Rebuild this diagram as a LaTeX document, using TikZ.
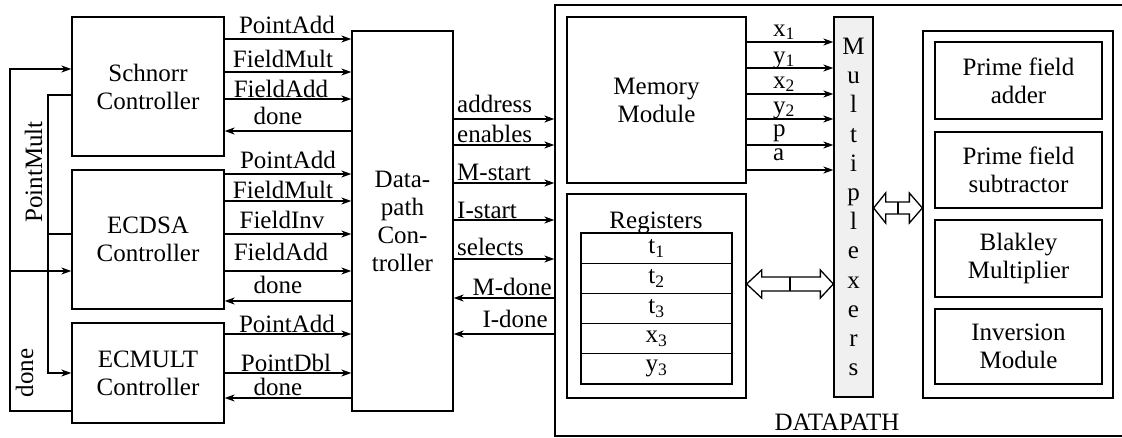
\documentclass[tikz,border=0pt]{standalone}
\usepackage{fontspec}
\setmainfont{Liberation Serif}
\usetikzlibrary{arrows.meta,calc}
\begin{document}
\begin{tikzpicture}[x=1pt,y=-1pt,
  every node/.style={font=\fontsize{25}{28}\selectfont},
  box/.style={draw, line width=1.3pt, inner sep=0pt, align=center},
  lab/.style={anchor=base, inner sep=0pt},
  labw/.style={anchor=base west, inner sep=0pt},
  labe/.style={anchor=base east, inner sep=0pt},
  sig/.style={line width=1.3pt, -{Stealth[length=10pt,width=7pt,inset=3pt]}},
  wire/.style={line width=1.3pt},
  hollow/.style={line width=1.3pt, fill=white, line join=miter}]
\useasboundingbox (0,0) rectangle (1122,437);

% controllers
\node[box, minimum width=152, minimum height=139] (sch) at (148,86.5) {Schnorr\\Controller};
\node[box, minimum width=152, minimum height=139] (ecd) at (148,239.5) {ECDSA\\Controller};
\node[box, minimum width=152, minimum height=100] (ecm) at (148,373) {ECMULT\\Controller};
\node[box, minimum width=101, minimum height=380] (dpc) at (402.5,221) {Data-\\path\\Con-\\troller};

% datapath
\node[box, minimum width=575, minimum height=431] (dp) at (842.5,220.5) {};
\node[lab] (dplab) at (837,430) {DATAPATH};
\node[box, minimum width=179, minimum height=166] (mem) at (656.5,100) {Memory\\Module};
\node[box, minimum width=179, minimum height=204] (reg) at (656.5,296) {};
\node[lab] (reglab) at (656,228) {Registers};
\node[box, minimum width=151, minimum height=30.2] (r1) at (656.5,248.1) {t\textsubscript{1}};
\node[box, minimum width=151, minimum height=30.2] (r2) at (656.5,278.3) {t\textsubscript{2}};
\node[box, minimum width=151, minimum height=30.2] (r3) at (656.5,308.5) {t\textsubscript{3}};
\node[box, minimum width=151, minimum height=30.2] (r4) at (656.5,338.7) {x\textsubscript{3}};
\node[box, minimum width=151, minimum height=30.2] (r5) at (656.5,368.9) {y\textsubscript{3}};
\node[box, fill=gray!12, minimum width=39, minimum height=380,
      font=\fontsize{25}{29.2}\selectfont] (mux) at (853.5,207) {M\\u\\l\\t\\i\\p\\l\\e\\x\\e\\r\\s};
\node[box, minimum width=190, minimum height=367] (mods) at (1018,214.5) {};
\node[box, minimum width=167, minimum height=77] (pfa) at (1018.5,80.5) {Prime field\\adder};
\node[box, minimum width=167, minimum height=76] (pfs) at (1018.5,170) {Prime field\\subtractor};
\node[box, minimum width=167, minimum height=77] (bm) at (1018.5,258.5) {Blakley\\Multiplier};
\node[box, minimum width=167, minimum height=75] (inv) at (1018.5,346.5) {Inversion\\Module};

% Schnorr signals
\draw[sig] (sch.east |- 0,39) -- (dpc.west |- 0,39);
\draw[sig] (sch.east |- 0,72) -- (dpc.west |- 0,72);
\draw[sig] (sch.east |- 0,99) -- (dpc.west |- 0,99);
\draw[sig] (dpc.west |- 0,131) -- (sch.east |- 0,131);
\node[lab] (s1) at (287,33) {PointAdd};
\node[lab] (s2) at (283,67) {FieldMult};
\node[lab] (s3) at (281,97) {FieldAdd};
\node[lab] (s4) at (278,124) {done};
% ECDSA signals
\draw[sig] (ecd.east |- 0,174) -- (dpc.west |- 0,174);
\draw[sig] (ecd.east |- 0,201) -- (dpc.west |- 0,201);
\draw[sig] (ecd.east |- 0,234) -- (dpc.west |- 0,234);
\draw[sig] (ecd.east |- 0,271) -- (dpc.west |- 0,271);
\draw[sig] (dpc.west |- 0,301) -- (ecd.east |- 0,301);
\node[lab] (e1) at (288,168) {PointAdd};
\node[lab] (e2) at (283,198) {FieldMult};
\node[lab] (e3) at (282,228) {FieldInv};
\node[lab] (e4) at (281,260) {FieldAdd};
\node[lab] (e5) at (278,293) {done};
% ECMULT signals
\draw[sig] (ecm.east |- 0,334) -- (dpc.west |- 0,334);
\draw[sig] (ecm.east |- 0,373) -- (dpc.west |- 0,373);
\draw[sig] (dpc.west |- 0,398) -- (ecm.east |- 0,398);
\node[lab] (m1) at (287,332) {PointAdd};
\node[lab] (m2) at (286,371) {PointDbl};
\node[lab] (m3) at (278,395) {done};

% feedback wires
\draw[sig] (ecm.west |- 0,411) -- (10,411) -- (10,69) -- (sch.west |- 0,69);
\draw[sig] (10,271) -- (ecd.west |- 0,271);
\draw[sig] (sch.west |- 0,95) -- (48,95) -- (48,373) -- (ecm.west |- 0,373);
\draw[wire] (ecd.west |- 0,234) -- (48,234);
\node[lab, rotate=90] (pmlab) at (42,172) {PointMult};
\node[lab, rotate=90] (dnlab) at (33,373) {done};

% datapath controller signals
\draw[sig] (dpc.east |- 0,119) -- (dp.west |- 0,119);
\draw[sig] (dpc.east |- 0,145) -- (dp.west |- 0,145);
\draw[sig] (dpc.east |- 0,183) -- (dp.west |- 0,183);
\draw[sig] (dpc.east |- 0,220) -- (dp.west |- 0,220);
\draw[sig] (dpc.east |- 0,259) -- (dp.west |- 0,259);
\draw[sig] (dp.west |- 0,298) -- (dpc.east |- 0,298);
\draw[sig] (dp.west |- 0,334) -- (dpc.east |- 0,334);
\node[labw] (d1) at (457,112) {address};
\node[labw] (d2) at (457,142) {enables};
\node[labw] (d3) at (457,180) {M-start};
\node[labw] (d4) at (457,218) {I-start};
\node[labw] (d5) at (457,255) {selects};
\node[labe] (d6) at (552,295) {M-done};
\node[labe] (d7) at (548,327) {I-done};

% memory outputs
\draw[sig] (mem.east |- 0,42) -- (mux.west |- 0,42);
\draw[sig] (mem.east |- 0,68) -- (mux.west |- 0,68);
\draw[sig] (mem.east |- 0,94) -- (mux.west |- 0,94);
\draw[sig] (mem.east |- 0,119) -- (mux.west |- 0,119);
\draw[sig] (mem.east |- 0,145) -- (mux.west |- 0,145);
\draw[sig] (mem.east |- 0,170) -- (mux.west |- 0,170);
\node[labw] (o1) at (773,36) {x\textsubscript{1}};
\node[labw] (o2) at (773,63) {y\textsubscript{1}};
\node[labw] (o3) at (773,88) {x\textsubscript{2}};
\node[labw] (o4) at (773,113) {y\textsubscript{2}};
\node[labw] (o5) at (773,136) {p};
\node[labw] (o6) at (773,160) {a};

% hollow double arrows
\coordinate (ra) at (reg.east |- 0,284);
\coordinate (rb) at (mux.west |- 0,284);
\draw[hollow] (ra) -- ++(15,-14) -- ++(0,7) -- ($(rb)+(-13,-7)$) -- ++(0,-7) -- (rb)
  -- ++(-13,14) -- ++(0,-7) -- ($(ra)+(15,7)$) -- ++(0,7) -- cycle;
\draw[wire] ($(ra)!0.5!(rb)+(0,-7)$) -- ++(0,14);
\coordinate (ma) at (mux.east |- 0,208);
\coordinate (mb) at (mods.west |- 0,208);
\draw[hollow] (ma) -- ++(12,-15) -- ++(0,9) -- ($(mb)+(-13,-6)$) -- ++(0,-9) -- (mb)
  -- ++(-13,15) -- ++(0,-9) -- ($(ma)+(12,6)$) -- ++(0,9) -- cycle;
\draw[wire] ($(ma)!0.5!(mb)+(0,-6)$) -- ++(0,12);
\end{tikzpicture}
\end{document}
